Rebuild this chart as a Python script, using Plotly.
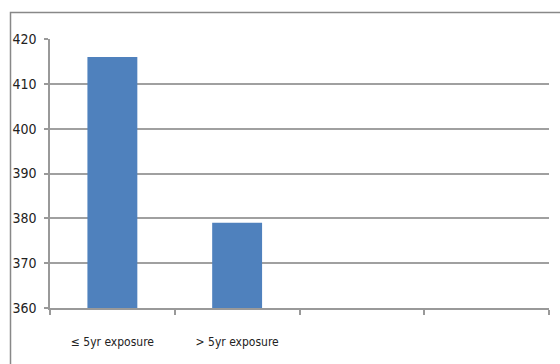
import plotly.graph_objects as go

categories = ["≤ 5yr exposure", "> 5yr exposure", " ", "  "]
values = [416, 379, None, None]
y_ticks = [360, 370, 380, 390, 400, 410, 420]

W, H = 560, 364
L, R, T, B = 50, 11, 39, 56
pw, ph = W - L - R, H - T - B

fig = go.Figure()
fig.add_trace(go.Bar(x=categories, y=values, marker=dict(color="#4F81BD", line=dict(width=0)),
                     width=0.4))

font = "Liberation Sans Narrow, DejaVu Sans Condensed, Lato, sans-serif"
fig.update_layout(
    width=W, height=H,
    margin=dict(l=L, r=R, t=T, b=B, pad=0),
    paper_bgcolor="white", plot_bgcolor="white",
    showlegend=False,
    font=dict(family=font, color="#222", size=13),
    xaxis=dict(type="category", tickson="boundaries", ticks="outside", ticklen=5,
               tickcolor="#999", tickwidth=1.5, showline=True, linecolor="#999", linewidth=1.5,
               showgrid=False, tickfont=dict(size=12, family=font), ticklabelstandoff=22,
               range=[-0.5, 3.5]),
    yaxis=dict(range=[360, 420], tickvals=y_ticks, ticks="outside", ticklen=4,
               tickcolor="#999", tickwidth=1.5, showline=True, linecolor="#999", linewidth=1.5,
               gridcolor="#a0a0a0", gridwidth=1.5, zeroline=False,
               tickfont=dict(size=14, family=font), ticklabelstandoff=5),
    shapes=[dict(type="rect", xref="paper", yref="paper",
                 x0=(10.5 - L) / pw, x1=(W + 10 - L) / pw,
                 y0=(T + ph - (H + 10)) / ph, y1=(T + ph - 12.5) / ph,
                 line=dict(color="#888", width=1.5), fillcolor="rgba(0,0,0,0)", layer="below")],
)
fig.write_html("out.html")
